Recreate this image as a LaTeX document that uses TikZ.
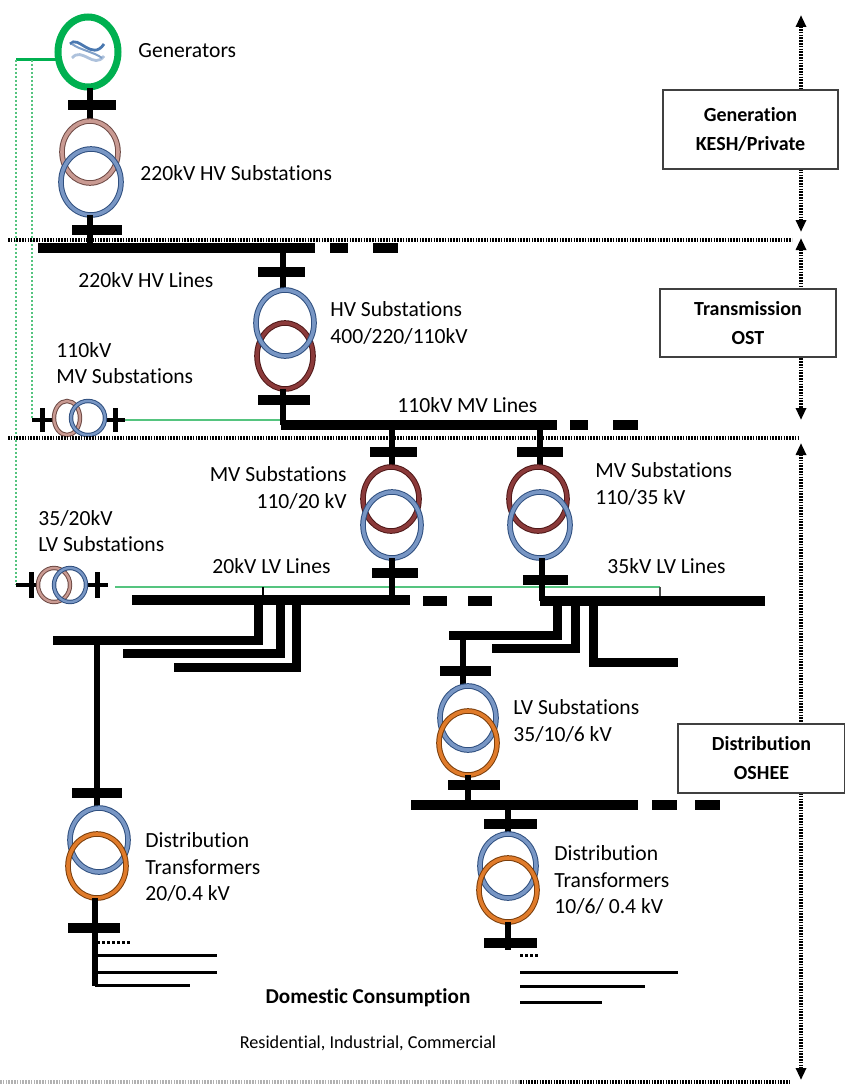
\documentclass[tikz,border=0pt]{standalone}
\usepackage{fontspec}
\setmainfont{Carlito}[Ligatures=NoCommon]
\usetikzlibrary{arrows.meta}
\definecolor{gengreen}{HTML}{00B050}
\definecolor{wiregreen}{HTML}{55C47F}
\definecolor{blueedge}{HTML}{2F4F7F}
\definecolor{bluefill}{HTML}{7896C4}
\definecolor{brownedge}{HTML}{4F1818}
\definecolor{brownfill}{HTML}{8B3A3A}
\definecolor{pinkedge}{HTML}{6E4A45}
\definecolor{pinkfill}{HTML}{C99A92}
\definecolor{orangeedge}{HTML}{7A3E0C}
\definecolor{orangefill}{HTML}{E07B2A}
\definecolor{iconblue}{HTML}{4A78B0}
\newcommand{\lblfont}{\fontsize{10.8}{13.2}\selectfont}

\begin{document}
\begin{tikzpicture}[x=0.5pt,y=-0.5pt,
	bus/.style={line width=5pt},
	feeder/.style={line width=4.5pt},
	stem/.style={line width=3pt},
	bar/.style={line width=5pt},
	load/.style={line width=1.5pt},
	sep/.style={line width=1.6pt, dash pattern=on 0.8pt off 0.6pt},
	span/.style={line width=1.6pt, dash pattern=on 0.8pt off 0.6pt,
		{Triangle[length=6pt,width=5pt]}-{Triangle[length=6pt,width=5pt]}},
	lbl/.style={font=\lblfont, align=left, inner sep=0pt, anchor=west},
	zone/.style={draw=black!75, line width=0.8pt, fill=white, align=center,
		font=\fontsize{10}{14.5}\selectfont\bfseries},
	ringblue/.style={draw=blueedge, double=bluefill, double distance=1.8pt, line width=0.5pt},
	ringbrown/.style={draw=brownedge, double=brownfill, double distance=1.8pt, line width=0.5pt},
	ringpink/.style={draw=pinkedge, double=pinkfill, double distance=1.8pt, line width=0.5pt},
	ringorange/.style={draw=orangeedge, double=orangefill, double distance=1.8pt, line width=0.5pt}]
\useasboundingbox (0,0) rectangle (845,1086);

% zones on the right
\draw[span] (801,15) -- (801,232);
\draw[span] (801,238) -- (801,420);
\draw[span] (801,443) -- (801,1080);
\node[zone, minimum width=87.5pt, minimum height=39.5pt] (genzone) at (750.5,129.5) {Generation\\KESH/Private};
\node[zone, minimum width=88pt, minimum height=34pt] (transzone) at (748,323) {Transmission\\OST};
\node[zone, minimum width=83.5pt, minimum height=34.5pt] (distzone) at (761.5,758.5) {Distribution\\OSHEE};

% green auxiliary supply
\coordinate (auxA) at (16,60);
\coordinate (auxB) at (32,60);
\coordinate (mvsub) at (77,420);
\coordinate (lvsub) at (62,585);
\draw[gengreen, line width=1.5pt] (auxA) -- (58,60);
\draw[wiregreen, line width=1pt, densely dotted] (auxA) -- (16,585);
\draw[wiregreen, line width=1pt, densely dotted] (auxB) -- (32,420);
\draw[wiregreen, line width=1pt] (125,420) -- (283,420);
\draw[wiregreen, line width=1pt] (115,587) -- (660,587);
\draw[black!70, line width=0.6pt] (660,587) -- (660,601);
\draw[black, line width=0.6pt] (263,587) -- (263,600);

% generator
\coordinate (gen) at (88,52);
\draw[gengreen, line width=3.5pt] (gen) ellipse [x radius=30, y radius=35];
\draw[iconblue, line width=1.4pt] (70,44) .. controls (78,34) and (92,62) .. (104,44);
\draw[iconblue!45, line width=1.4pt] (72,58) .. controls (82,46) and (94,70) .. (104,56);
\draw[iconblue!70, line width=1pt] (72,44) .. controls (80,50) and (94,52) .. (102,58);
\draw[stem] (90,88) -- (90,121);
\draw[bar] (68,105) -- (116,105);
\draw[ringpink] (90,152) ellipse [x radius=28, y radius=31];
\draw[ringblue] (91,182) ellipse [x radius=30, y radius=33];
\draw[stem] (90,215) -- (90,248);
\draw[bar] (72,230) -- (122,230);

% 220kV lines
\coordinate (hvtap) at (283,248);
\draw[bus] (38,248) -- (315,248);
\draw[bus] (330,248) -- (348,248) (373,248) -- (398,248);

% HV substation
\draw[stem] (hvtap) -- (283,290);
\draw[bar] (258,272) -- (305,272);
\draw[ringbrown] (285,356) ellipse [x radius=28, y radius=33];
\draw[ringblue] (285,323) ellipse [x radius=29, y radius=33];
\draw[stem] (283,389) -- (283,425);
\draw[bar] (258,400) -- (310,400);

% 110kV lines
\coordinate (mvtapA) at (392,425);
\coordinate (mvtapB) at (540,425);
\draw[bus] (281,425) -- (557,425);
\draw[bus] (570,425) -- (588,425) (613,425) -- (638,425);

% 110kV MV substation (small)
\draw[line width=2pt] (32,420) -- (53,420) (106,420) -- (125,420);
\draw[line width=2.5pt] (42,408) -- (42,432) (115,408) -- (115,432);
\draw[ringpink, double distance=1.2pt] (67,418) ellipse [x radius=13, y radius=17];
\draw[ringblue, double distance=1.2pt] (88,418) ellipse [x radius=17, y radius=17];

% MV substation 110/20
\draw[stem] (mvtapA) -- (392,467);
\draw[bar] (370,452) -- (417,452);
\draw[ringbrown] (391,499) ellipse [x radius=28, y radius=32];
\draw[ringblue] (392,525) ellipse [x radius=29, y radius=33];
\draw[stem] (392,558) -- (392,600);
\draw[bar] (372,573) -- (418,573);

% MV substation 110/35
\draw[stem] (mvtapB) -- (540,467);
\draw[bar] (517,452) -- (563,452);
\draw[ringbrown] (538,499) ellipse [x radius=29, y radius=32];
\draw[ringblue] (540,525) ellipse [x radius=30, y radius=33];
\draw[stem] (542,558) -- (542,601);
\draw[bar] (523,580) -- (568,580);

% 35/20kV LV substation (small)
\draw[line width=2pt] (16,585) -- (37,585) (86,585) -- (108,585);
\draw[line width=2.5pt] (31,572) -- (31,598) (97,572) -- (97,598);
\draw[ringpink, double distance=1.2pt] (54,585) ellipse [x radius=16, y radius=17];
\draw[ringblue, double distance=1.2pt] (70,585) ellipse [x radius=16, y radius=17];

% 20kV lines and feeders
\draw[bus] (132,600) -- (410,600);
\draw[bus] (423,601) -- (447,601) (468,601) -- (492,601);
\draw[feeder] (258,600) -- (258,640) -- (53,640);
\draw[feeder] (280,600) -- (280,653) -- (123,653);
\draw[feeder] (296,600) -- (296,667) -- (174,667);

% 35kV lines and feeders
\draw[bus] (540,601) -- (765,601);
\draw[feeder] (557,601) -- (557,635) -- (449,635);
\draw[feeder] (575,601) -- (575,648) -- (492,648);
\draw[feeder] (593,601) -- (593,662) -- (678,662);

% LV substation 35/10/6
\draw[stem] (463,635) -- (463,687);
\draw[bar] (440,671) -- (491,671);
\draw[ringblue] (468,718) ellipse [x radius=28, y radius=32];
\draw[ringorange] (468,743) ellipse [x radius=29, y radius=32];
\draw[stem] (468,775) -- (468,805);
\draw[bar] (448,785) -- (500,785);
\draw[bus] (411,805) -- (638,805);
\draw[bus] (652,805) -- (677,805) (695,805) -- (720,805);

% distribution transformer 10/6/0.4
\draw[stem] (508,805) -- (508,835);
\draw[bar] (484,824) -- (537,824);
\draw[ringblue] (508,866) ellipse [x radius=28, y radius=32];
\draw[ringorange] (508,890) ellipse [x radius=29, y radius=32];
\draw[stem] (508,922) -- (508,950);
\draw[bar] (484,943) -- (537,943);
\draw[load, densely dotted] (520,955) -- (538,955);
\draw[load] (520,972) -- (678,972);
\draw[load] (520,986) -- (645,986);
\draw[load] (520,1002) -- (602,1002);

% distribution transformer 20/0.4
\draw[stem] (97,640) -- (97,808);
\draw[bar] (72,793) -- (122,793);
\draw[ringblue] (99,840) ellipse [x radius=29, y radius=32];
\draw[ringorange] (97,866) ellipse [x radius=29, y radius=32];
\draw[stem] (95,898) -- (95,986);
\draw[bar] (68,928) -- (120,928);
\draw[load, densely dotted] (97,942) -- (130,942);
\draw[load] (95,955) -- (217,955);
\draw[load] (95,972) -- (217,972);
\draw[load] (95,985) -- (190,985);

% zone separators
\draw[sep] (8,240) -- (792,240);
\draw[sep] (8,438) -- (800,438);
\draw[sep, black!30] (0,1082) -- (520,1082);
\draw[sep] (520,1082) -- (790,1082);

% labels
\node[lbl] (genlbl) at (138,51) {Generators};
\node[lbl] (hvsublbl) at (140,173) {220kV HV Substations};
\node[lbl] (hvlinelbl) at (78,280) {220kV HV Lines};
\node[lbl] (hvtrlbl) at (330,323) {HV Substations\\400/220/110kV};
\node[lbl] (mvsublbl) at (56,363) {110kV\\MV Substations};
\node[lbl] (mvlinelbl) at (397,405) {110kV MV Lines};
\node[lbl, anchor=east, align=right] (mvAlbl) at (347,488) {MV Substations\\110/20 kV};
\node[lbl] (mvBlbl) at (595,484) {MV Substations\\110/35 kV};
\node[lbl] (lvsublbl) at (38,531) {35/20kV\\LV Substations};
\node[lbl] (lvAlbl) at (212,566) {20kV LV Lines};
\node[lbl] (lvBlbl) at (607,566) {35kV LV Lines};
\node[lbl] (lvtrlbl) at (513,721) {LV Substations\\35/10/6 kV};
\node[lbl] (dtAlbl) at (145,867) {Distribution\\Transformers\\20/0.4 kV};
\node[lbl] (dtBlbl) at (554,880) {Distribution\\Transformers\\10/6/ 0.4 kV};
\node[font=\fontsize{10.6}{13}\selectfont\bfseries, inner sep=0pt] (uselbl) at (368,998) {Domestic Consumption};
\node[font=\fontsize{9.1}{11}\selectfont, inner sep=0pt] (kindlbl) at (368,1043) {Residential, Industrial, Commercial};
\end{tikzpicture}
\end{document}
